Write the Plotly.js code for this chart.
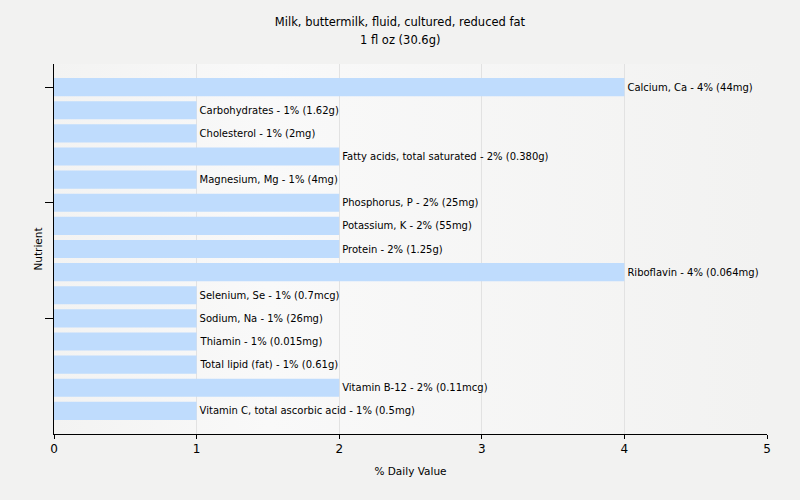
<!DOCTYPE html>
<html>
<head>
<meta charset="utf-8">
<script src="https://cdn.plot.ly/plotly-3.0.1.min.js"></script>
<style>html,body{margin:0;padding:0;background:#f2f2f1;}#chart{width:800px;height:500px;}</style>
</head>
<body>
<div id="chart"></div>
<script>
const nutrients = [
  "Calcium, Ca", "Carbohydrates", "Cholesterol", "Fatty acids, total saturated",
  "Magnesium, Mg", "Phosphorus, P", "Potassium, K", "Protein", "Riboflavin",
  "Selenium, Se", "Sodium, Na", "Thiamin", "Total lipid (fat)", "Vitamin B-12",
  "Vitamin C, total ascorbic acid"
];
const dailyValues = [4, 1, 1, 2, 1, 2, 2, 2, 4, 1, 1, 1, 1, 2, 1];
const amounts = ["44mg", "1.62g", "2mg", "0.380g", "4mg", "25mg", "55mg", "1.25g",
  "0.064mg", "0.7mcg", "26mg", "0.015mg", "0.61g", "0.11mcg", "0.5mg"];
const xTicks = [0, 1, 2, 3, 4, 5];
const titleLine1 = "Milk, buttermilk, fluid, cultured, reduced fat";
const titleLine2 = "1 fl oz (30.6g)";

const labels = nutrients.map((n, i) => n + " - " + dailyValues[i] + "% (" + amounts[i] + ")");

const font = "Tahoma, 'DejaVu Sans', sans-serif";

const gradSvg = '<svg xmlns="http://www.w3.org/2000/svg" width="100" height="10" preserveAspectRatio="none">' +
  '<defs><linearGradient id="g" x1="0" y1="0" x2="1" y2="0">' +
  '<stop offset="0" stop-color="#f3f3f2"/><stop offset="0.3" stop-color="#f9f9f9"/>' +
  '<stop offset="1" stop-color="#f2f2f1"/></linearGradient></defs>' +
  '<rect width="100" height="10" fill="url(#g)"/></svg>';

const trace = {
  type: "bar",
  orientation: "h",
  y: nutrients,
  x: dailyValues,
  text: labels,
  textposition: "outside",
  cliponaxis: false,
  textfont: {family: font, size: 10, color: "#000"},
  marker: {color: "#bfdcfd", line: {width: 0}},
  width: 0.78,
  hoverinfo: "none"
};

const layout = {
  width: 800, height: 500,
  margin: {l: 54, r: 33, t: 64, b: 66},
  paper_bgcolor: "#f2f2f1",
  plot_bgcolor: "rgba(0,0,0,0)",
  font: {family: font, size: 10, color: "#000"},
  title: {
    text: titleLine1,
    x: 0.5, xanchor: "center", xref: "container",
    y: 1 - 22 / 500, yanchor: "middle", yref: "container",
    font: {family: font, size: 11.5, color: "#000"}
  },
  annotations: [{
    text: titleLine2, showarrow: false,
    xref: "paper", x: (400 - 54) / 713, xanchor: "center",
    yref: "paper", y: (500 - 66 - 40) / 370, yanchor: "middle",
    font: {family: font, size: 11.5, color: "#000"}
  }],
  xaxis: {
    range: [0, 5],
    tickvals: xTicks,
    ticks: "outside", ticklen: 4, tickcolor: "#000", tickwidth: 1,
    showline: true, linecolor: "#000", linewidth: 1,
    showgrid: true, gridcolor: "#e2e2e2", gridwidth: 1,
    zeroline: false,
    tickfont: {family: font, size: 12, color: "#000"},
    title: {text: "% Daily Value", font: {family: font, size: 10.5, color: "#000"}, standoff: 12},
    fixedrange: true
  },
  yaxis: {
    type: "category",
    range: [15, -1],
    tickvals: [nutrients[0], nutrients[5], nutrients[10]],
    ticktext: ["", "", ""],
    ticks: "outside", ticklen: 8, tickcolor: "#000", tickwidth: 1,
    showticklabels: false,
    showline: true, linecolor: "#000", linewidth: 1,
    showgrid: false, zeroline: false,
    title: {text: "Nutrient", font: {family: font, size: 10.5, color: "#000"}, standoff: 0},
    fixedrange: true
  },
  images: [{
    source: "data:image/svg+xml;charset=utf-8," + encodeURIComponent(gradSvg),
    xref: "paper", yref: "paper", x: 0, y: 1, sizex: 1, sizey: 1,
    sizing: "stretch", layer: "below", xanchor: "left", yanchor: "top"
  }],
  showlegend: false
};

Plotly.newPlot("chart", [trace], layout, {displayModeBar: false, staticPlot: true});
</script>
</body>
</html>
